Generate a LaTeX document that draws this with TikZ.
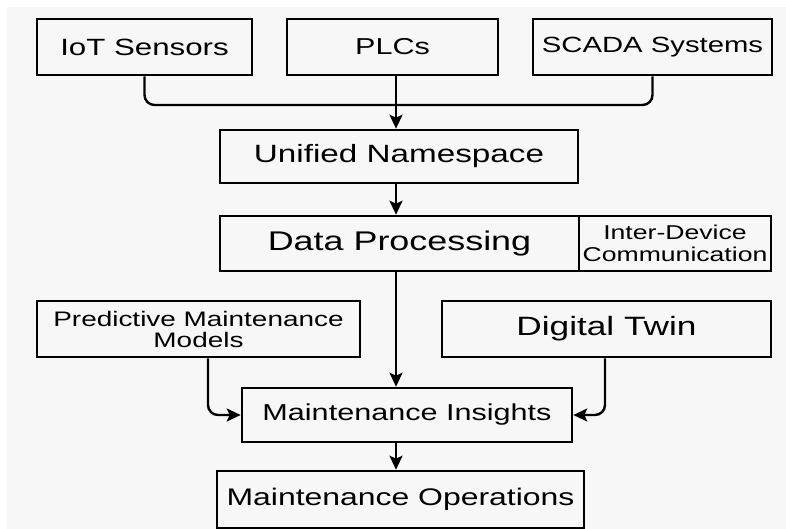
\documentclass[tikz,border=0pt]{standalone}
\usepackage{fontspec}
\setmainfont{Liberation Sans}[FakeStretch=1.33]
\usetikzlibrary{arrows.meta}
\begin{document}
\begin{tikzpicture}[x=1pt,y=-1pt,>={Stealth[length=14pt,width=13pt,inset=3pt]}]
  \definecolor{ink}{HTML}{000000}
  \definecolor{paper}{HTML}{F7F7F7}
  \tikzset{box/.style={draw=ink,line width=2.6pt,inner sep=0pt,align=center,minimum height=56pt},
    fs/.style={font=\fontsize{#1}{#1}\selectfont},
    link/.style={ink,line width=2.4pt,rounded corners=10pt}}
  \fill[white] (0,0) rectangle (786,529);
  \fill[paper] (7,7) rectangle (786,529);
  \useasboundingbox (0,0) rectangle (786,529);
  \node[box,fs=23.5,minimum width=215pt] (iot) at (144.5,47) {IoT Sensors};
  \node[box,fs=23,minimum width=211pt] (plcs) at (392.5,47) {PLCs};
  \node[box,fs=22,minimum width=239pt] (scada) at (652.5,47) {SCADA Systems};
  \node[box,fs=25,minimum width=358pt,minimum height=53pt] (uns) at (399,156.5) {Unified Namespace};
  \node[box,fs=27,minimum width=359pt,minimum height=55pt] (proc) at (399.5,243.5) {Data Processing};
  \node[box,fs=20,minimum width=192pt,minimum height=55pt] (comm) at (675,243.5) {Inter-Device\\[1.5pt]Communication};
  \node[box,fs=21,minimum width=323pt] (models) at (198.5,329) {Predictive Maintenance\\Models};
  \node[box,fs=26.5,minimum width=329pt] (twin) at (606.5,329) {Digital Twin};
  \node[box,fs=23,minimum width=330pt,minimum height=54pt] (insight) at (407,415) {Maintenance Insights};
  \node[box,fs=24,minimum width=367pt,minimum height=57pt] (ops) at (400.5,499.5) {Maintenance Operations};
  \coordinate (hub) at (396,105);
  \draw[link] (iot.south) |- (hub);
  \draw[link] (scada.south) |- (hub);
  \draw[link,->] (plcs.south -| hub) -- (uns.north -| hub);
  \draw[link,->] (uns.south -| hub) -- (proc.north -| hub);
  \draw[link,->] (proc.south -| hub) -- (insight.north -| hub);
  \draw[link,->] ([xshift=9.5pt]models.south) |- (insight.west);
  \draw[link,->] ([xshift=-1.5pt]twin.south) |- (insight.east);
  \draw[link,->] (insight.south -| hub) -- (ops.north -| hub);
\end{tikzpicture}
\end{document}
